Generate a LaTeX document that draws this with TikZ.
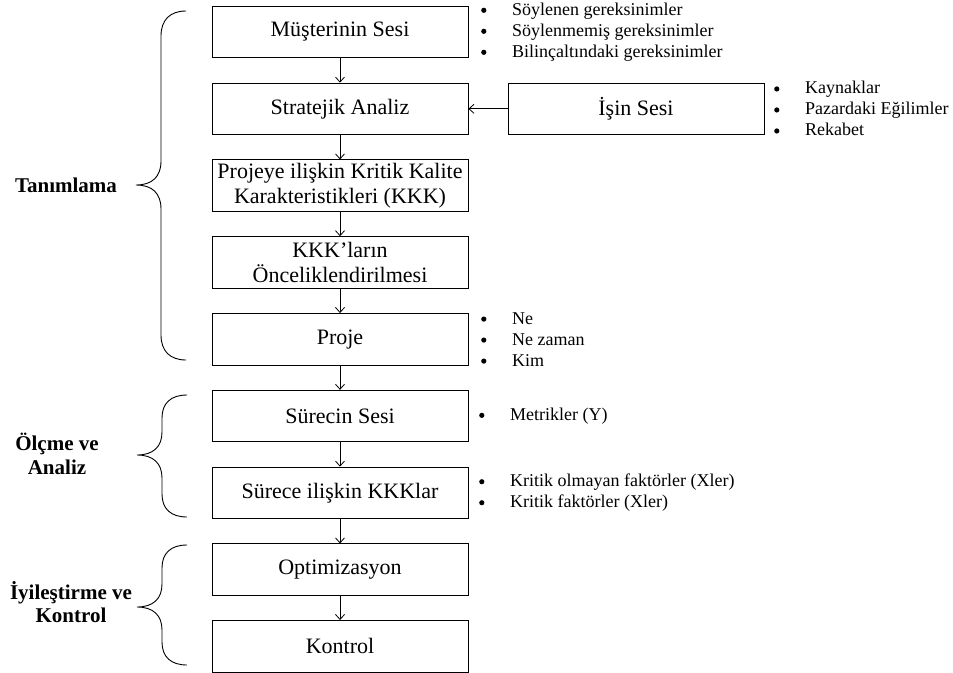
\documentclass[tikz,border=0pt]{standalone}
\usepackage{fontspec}
\setmainfont{Liberation Serif}
\usetikzlibrary{arrows.meta}
\begin{document}
\begin{tikzpicture}[x=1pt,y=-1pt,
  kutu/.style={draw,line width=0.8pt,minimum width=256pt,minimum height=51.5pt,
    inner sep=0pt,align=center,font=\fontsize{22}{25}\selectfont},
  liste/.style={anchor=west,inner sep=0pt,align=left,font=\fontsize{18}{21}\selectfont},
  baslik/.style={inner sep=0pt,align=center,font=\fontsize{21}{23.5}\selectfont\bfseries},
  ok/.style={line width=0.8pt,-{Straight Barb[length=5pt,width=9pt]}},
  parantez/.style={line width=0.9pt}]
\useasboundingbox (0,0) rectangle (953,672);
\newcommand{\mad}{\makebox[31pt][l]{\tikz[baseline=-5pt]\fill (2.7pt,0pt) circle (2.6pt);}}

\node[kutu] (musteri) at (340,32) {Müşterinin Sesi};
\node[kutu] (strateji) at (340,108.8) {Stratejik Analiz};
\node[kutu] (kkk) at (340,185.6) {Projeye ilişkin Kritik Kalite\\Karakteristikleri (KKK)};
\node[kutu] (oncelik) at (340,262.4) {KKK’ların\\Önceliklendirilmesi};
\node[kutu] (proje) at (340,339.2) {Proje};
\node[kutu] (surec) at (340,416) {Sürecin Sesi};
\node[kutu] (surecKKK) at (340,492.8) {Sürece ilişkin KKKlar};
\node[kutu] (optim) at (340,569.6) {Optimizasyon};
\node[kutu] (kontrol) at (340,646.2) {Kontrol};
\node[kutu] (isin) at (636,108.8) {İşin Sesi};

\draw[ok] (musteri) -- (strateji);
\draw[ok] (strateji) -- (kkk);
\draw[ok] (kkk) -- (oncelik);
\draw[ok] (oncelik) -- (proje);
\draw[ok] (proje) -- (surec);
\draw[ok] (surec) -- (surecKKK);
\draw[ok] (surecKKK) -- (optim);
\draw[ok] (optim) -- (kontrol);
\draw[ok] (isin) -- (strateji);

\node[liste] (lMusteri) at (481,32) {\mad Söylenen gereksinimler\\\mad Söylenmemiş gereksinimler\\\mad Bilinçaltındaki gereksinimler};
\node[liste] (lIsin) at (774,108.8) {\mad Kaynaklar\\\mad Pazardaki Eğilimler\\\mad Rekabet};
\node[liste] (lProje) at (481,339.2) {\mad Ne\\\mad Ne zaman\\\mad Kim};
\node[liste] (lSurec) at (479,416) {\mad Metrikler (Y)};
\node[liste] (lSurecKKK) at (479,492.8) {\mad Kritik olmayan faktörler (Xler)\\\mad Kritik faktörler (Xler)};

% asamalar
\draw[parantez] (186,11) .. controls (170,11) and (161,20) .. (161,36) -- (161,161)
  .. controls (161,177) and (152,185) .. (136,185)
  .. controls (152,185) and (161,193) .. (161,209) -- (161,335)
  .. controls (161,351) and (170,360) .. (186,360);
\draw[parantez] (187,395) .. controls (171,395) and (162,403) .. (162,418) -- (162,432)
  .. controls (162,447) and (153,455) .. (137,455)
  .. controls (153,455) and (162,463) .. (162,478) -- (162,494)
  .. controls (162,509) and (171,517) .. (187,517);
\draw[parantez] (187,545) .. controls (171,545) and (162,553) .. (162,568) -- (162,584)
  .. controls (162,599) and (153,607) .. (137,607)
  .. controls (153,607) and (162,615) .. (162,630) -- (162,642)
  .. controls (162,657) and (171,665) .. (187,665);

\node[baslik] (tanim) at (66,185) {Tanımlama};
\node[baslik] (olcme) at (57,454) {Ölçme ve\\Analiz};
\node[baslik] (iyile) at (71,602) {İyileştirme ve\\Kontrol};
\end{tikzpicture}
\end{document}
